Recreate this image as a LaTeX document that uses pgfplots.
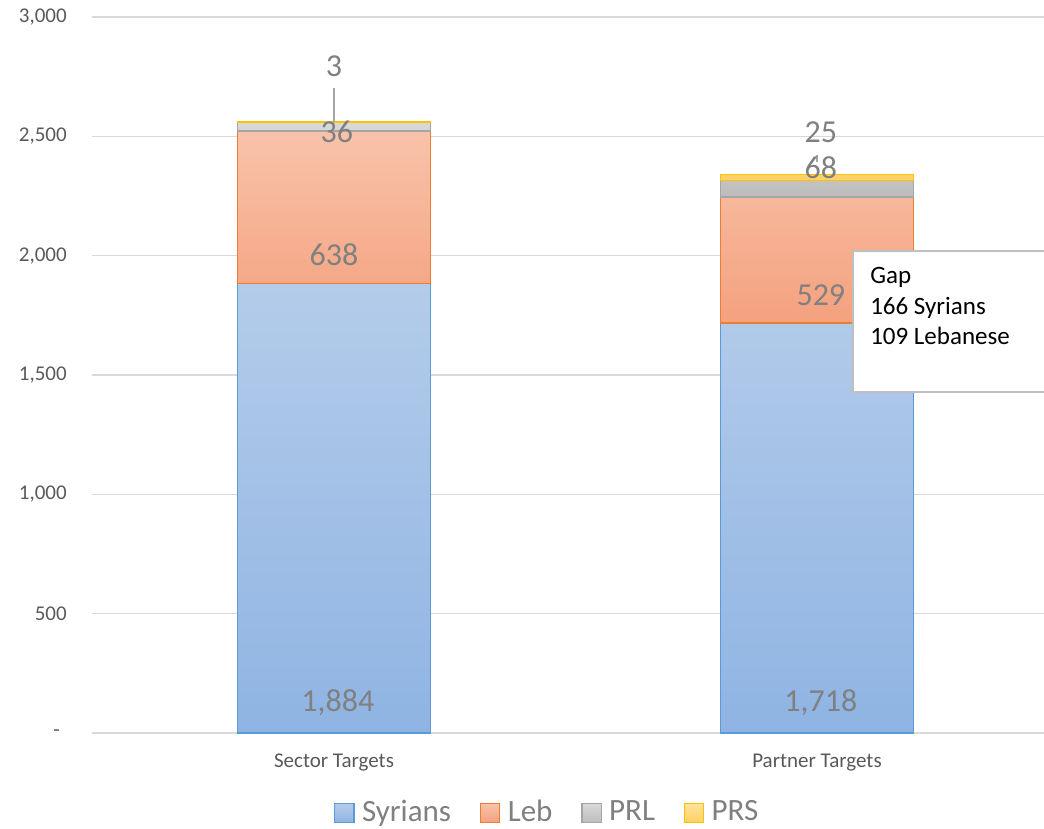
\documentclass[border=0pt]{standalone}
\usepackage{pgfplots}
\pgfplotsset{compat=1.18}
\usepackage{fontspec}
\setmainfont{Carlito}
\definecolor{syrT}{HTML}{B4CCEA}
\definecolor{syrB}{HTML}{8FB4E3}
\definecolor{syrD}{HTML}{5B9BD5}
\definecolor{lebT}{HTML}{F8C3AA}
\definecolor{lebB}{HTML}{F4A17E}
\definecolor{lebD}{HTML}{ED7D31}
\definecolor{prlT}{HTML}{D9D9D9}
\definecolor{prlB}{HTML}{BCBCBC}
\definecolor{prlD}{HTML}{A5A5A5}
\definecolor{prsT}{HTML}{FFE29B}
\definecolor{prsB}{HTML}{FFD166}
\definecolor{prsD}{HTML}{FFC000}
\definecolor{gridc}{HTML}{D9D9D9}
\definecolor{tickc}{HTML}{595959}
\definecolor{labc}{HTML}{808080}
\definecolor{boxc}{HTML}{BFBFBF}
\tikzset{dlab/.style={font=\fontsize{24}{28}\selectfont, text=labc, inner sep=0pt, anchor=center}}
\begin{document}
\begin{tikzpicture}
\begin{axis}[
  at={(0pt,0pt)}, anchor=south west,
  scale only axis, width=714pt, height=537pt,
  ybar stacked, bar width=0.4, reverse stacked plots=false,
  xmin=-0.501, xmax=1.470,
  ymin=0, ymax=3000,
  xtick={0,1}, xticklabels={Sector Targets, Partner Targets},
  ytick={0,500,1000,1500,2000,2500,3000},
  yticklabels={-\rule{5.25pt}{0pt}, 500, {1,000}, {1,500}, {2,000}, {2,500}, {3,000}},
  major tick length=0pt,
  axis line style={draw=none},
  ymajorgrids, major grid style={draw=gridc, line width=1pt},
  tick label style={font=\fontsize{15.75}{18}\selectfont, text=tickc},
  yticklabel style={anchor=east, inner sep=0pt, xshift=-18.75pt},
  xticklabel style={anchor=base, inner sep=0pt, yshift=-25.5pt},
  clip=false,
  legend columns=4,
  legend style={at={(0.4785,-0.1100)}, anchor=center, draw=none, fill=none,
    font=\fontsize{23.25}{28}\selectfont, text=labc,
    /tikz/every even column/.append style={column sep=19.5pt}},
  legend image code/.code={\path[draw=none,fill=none] (0pt,0pt) -- (18.5pt,0pt);\draw[#1, line width=1pt] (0pt,-8.2pt) rectangle (14.5pt,6.3pt);},
]
\addplot[draw=syrD, line width=1.2pt, top color=syrT, bottom color=syrB] coordinates {(0,1884) (1,1718)};
\addlegendentry{Syrians}
\addplot[draw=lebD, line width=1.2pt, top color=lebT, bottom color=lebB] coordinates {(0,638) (1,529)};
\addlegendentry{Leb}
\addplot[draw=prlD, line width=1.2pt, top color=prlT, bottom color=prlB] coordinates {(0,36) (1,68)};
\addlegendentry{PRL}
\addplot[draw=prsD, line width=1.2pt, top color=prsT, bottom color=prsB] coordinates {(0,3) (1,25)};
\addlegendentry{PRS}
\coordinate (ll1a) at (axis cs:0,2702);
\coordinate (ll1b) at (axis cs:0,2560);
\coordinate (ll2a) at (axis cs:1,2422);
\coordinate (ll2b) at (axis cs:1,2392);
\coordinate (s1) at (axis cs:0.008,126);
\coordinate (s2) at (axis cs:0,2002);
\coordinate (s3) at (axis cs:0.006,2518);
\coordinate (s4) at (axis cs:0,2795);
\coordinate (p1) at (axis cs:1.008,126);
\coordinate (p2) at (axis cs:1.008,1835);
\coordinate (p3) at (axis cs:1.008,2367);
\coordinate (p4) at (axis cs:1.008,2518);
\end{axis}
\draw[color=prlD, line width=1pt] (ll1a) -- (ll1b);
\draw[color=prlD, line width=0.8pt] (ll2a) -- (ll2b);
\node[dlab] at (s1) {1,884};
\node[dlab] at (s2) {638};
\node[dlab] at (s3) {36};
\node[dlab] at (s4) {3};
\node[dlab] at (p1) {1,718};
\node[dlab] at (p2) {529};
\node[dlab] at (p3) {68};
\node[dlab] at (p4) {25};
\draw[draw=boxc, line width=1pt, fill=white] (570.75pt,255.75pt) rectangle (716pt,361.5pt);
\node[anchor=base west, inner sep=0pt, font=\fontsize{18.75}{22}\selectfont] at (583.5pt,336.75pt) {Gap};
\node[anchor=base west, inner sep=0pt, font=\fontsize{18.75}{22}\selectfont] at (583.5pt,313.5pt) {166 Syrians};
\node[anchor=base west, inner sep=0pt, font=\fontsize{18.75}{22}\selectfont] at (583.5pt,291pt) {109 Lebanese};
\pgfresetboundingbox
\path[use as bounding box] (-69pt,-71.25pt) rectangle (714pt,549.75pt);
\end{tikzpicture}
\end{document}
